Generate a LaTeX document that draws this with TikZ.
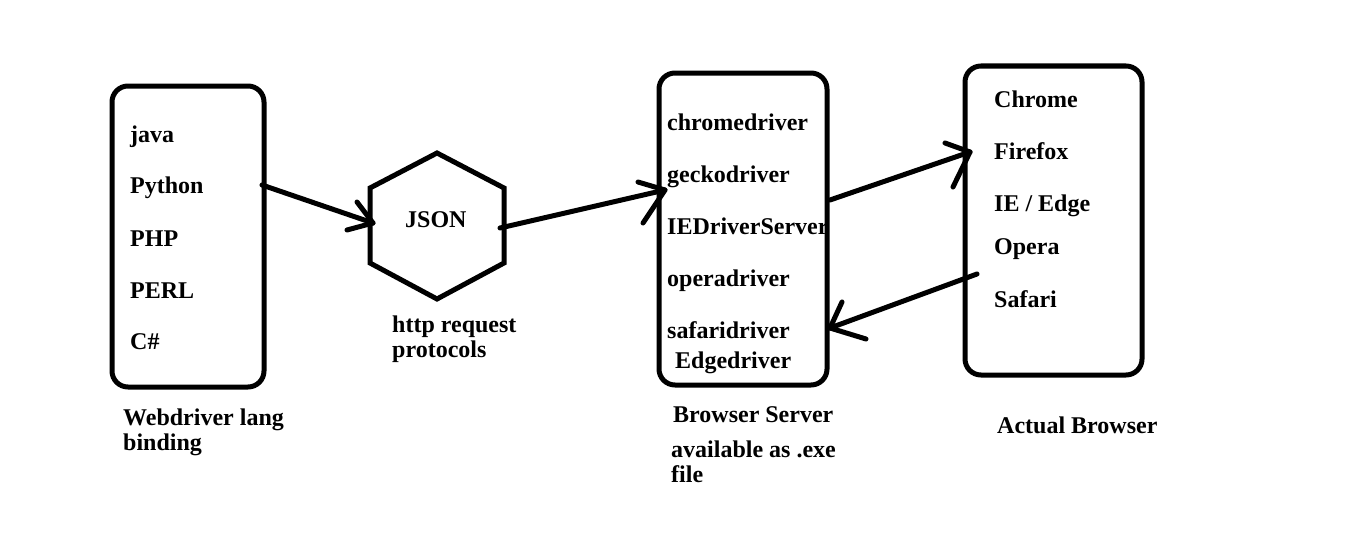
\documentclass[tikz,border=0pt]{standalone}
\usepackage{fontspec}
\setmainfont{Liberation Serif}
\begin{document}
\begin{tikzpicture}[x=1pt,y=-1pt,
  ln/.style={line width=5pt,line cap=round,line join=round},
  box/.style={draw,line width=5pt,rounded corners=16pt,inner sep=0pt},
  txt/.style={anchor=base west,inner sep=0pt,font=\fontsize{24}{26}\selectfont\bfseries}]
\useasboundingbox[fill=white] (0,0) rectangle (1359,551);
% boxes
\node[box,minimum width=152pt,minimum height=301pt] (b1) at (188,236.5) {};
\node[box,minimum width=168pt,minimum height=312pt] (b2) at (743,229) {};
\node[box,minimum width=177pt,minimum height=309pt] (b3) at (1053.5,220.5) {};
% hexagon
\coordinate (h1) at (437,153);
\coordinate (h2) at (504,188);
\coordinate (h3) at (504,263);
\coordinate (h4) at (437,299);
\coordinate (h5) at (370,263);
\coordinate (h6) at (370,188);
\draw[ln,line cap=butt,line join=miter] (h1) -- (h2) -- (h3) -- (h4) -- (h5) -- (h6) -- cycle;
\node[txt] (json) at (405,227) {JSON};
% box 1 texts
\node[txt] (t11) at (130,142) {java};
\node[txt] (t12) at (130,193) {Python};
\node[txt] (t13) at (130,246) {PHP};
\node[txt] (t14) at (130,298) {PERL};
\node[txt] (t15) at (130,349) {C\#};
\node[txt] (l1a) at (123,425) {Webdriver lang};
\node[txt] (l1b) at (123,450) {binding};
\node[txt] (lh1) at (392,332) {http request};
\node[txt] (lh2) at (392,357) {protocols};
% box 2 texts
\node[txt] (t21) at (667,130) {chromedriver};
\node[txt] (t22) at (667,182) {geckodriver};
\node[txt] (t23) at (667,234) {IEDriverServer};
\node[txt] (t24) at (667,286) {operadriver};
\node[txt] (t25) at (667,338) {safaridriver};
\node[txt] (t26) at (675,368) {Edgedriver};
\node[txt] (l2a) at (673,422) {Browser Server};
\node[txt] (l2b) at (671,457) {available as .exe};
\node[txt] (l2c) at (671,482) {file};
% box 3 texts
\node[txt] (t31) at (994,107) {Chrome};
\node[txt] (t32) at (994,159) {Firefox};
\node[txt] (t33) at (994,211) {IE / Edge};
\node[txt] (t34) at (994,254) {Opera};
\node[txt] (t35) at (994,307) {Safari};
\node[txt] (l3) at (997,433) {Actual Browser};
% arrow 1
\coordinate (a1s) at (262,185);
\coordinate (a1t) at (373,223);
\coordinate (a1p) at (357,202);
\coordinate (a1q) at (347,230);
\draw[ln] (a1s) -- (a1t);
\draw[ln] (a1p) -- (a1t) -- (a1q);
% arrow 2
\coordinate (a2s) at (500,228);
\coordinate (a2t) at (665,190);
\coordinate (a2p) at (638,182);
\coordinate (a2q) at (643,223);
\draw[ln] (a2s) -- (a2t);
\draw[ln] (a2p) -- (a2t) -- (a2q);
% arrow 3
\coordinate (a3s) at (830,200);
\coordinate (a3t) at (970,152);
\coordinate (a3p) at (945,143);
\coordinate (a3q) at (953,187);
\draw[ln] (a3s) -- (a3t);
\draw[ln] (a3p) -- (a3t) -- (a3q);
% arrow 4
\coordinate (a4s) at (977,274);
\coordinate (a4t) at (830,328);
\coordinate (a4p) at (842,302);
\coordinate (a4q) at (866,339);
\draw[ln] (a4s) -- (a4t);
\draw[ln] (a4p) -- (a4t) -- (a4q);
\end{tikzpicture}
\end{document}
